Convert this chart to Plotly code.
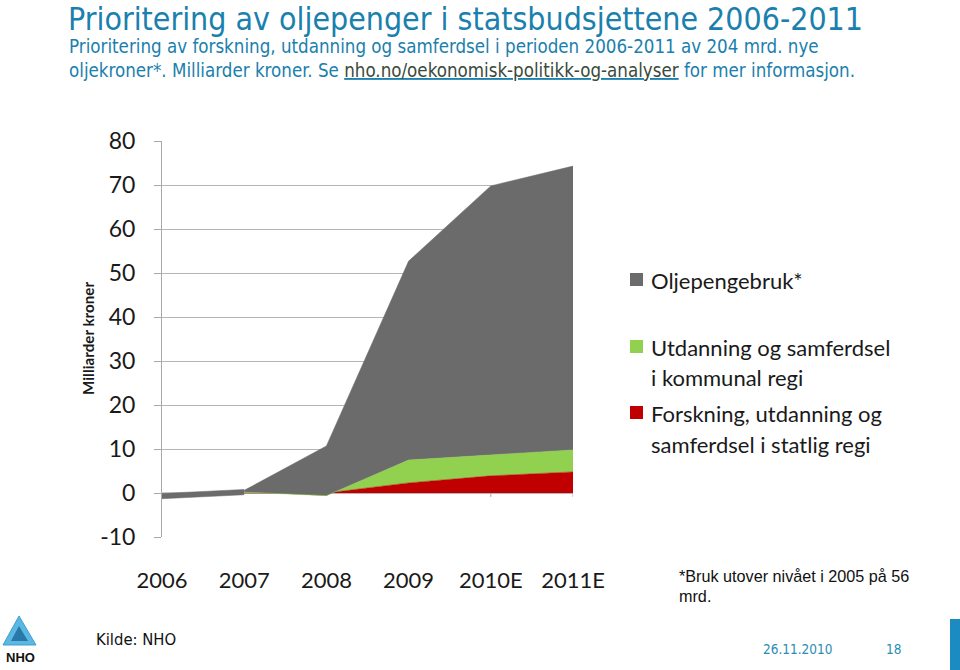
import plotly.graph_objects as go

# ---------------- data ----------------
years = ["2006", "2007", "2008", "2009", "2010E", "2011E"]
# stacked series, 2007 onwards
stack_years = years[1:]
statlig = [0.0, 0.0, 2.3, 3.9, 4.8]          # Forskning, utdanning og samferdsel i statlig regi
kommunal = [0.2, -0.6, 5.2, 4.7, 5.0]        # Utdanning og samferdsel i kommunal regi
olje = [0.4, 11.3, 45.2, 61.2, 64.5]         # Oljepengebruk*
# thin Oljepengebruk band 2006-2007 (below zero)
olje_band_years = years[:2]
olje_band_low = [-1.3, -0.4]
olje_band_high = [-0.1, 0.8]

y_ticks = list(range(-10, 81, 10))
y_tick_labels = [str(v) for v in y_ticks]

GRAY = "#6b6b6b"
GREEN = "#92d050"
RED = "#c00000"
TEAL = "#1a80ad"
AXIS = "#a9a9a9"
NARROW = "Liberation Sans Narrow, DejaVu Sans Condensed, Arial Narrow, sans-serif"
CAL = "Lato, Carlito, Calibri, sans-serif"

W, H = 960, 670
L, R, T, B = 162, 573, 141, 537


def px(x):
    return (x - L) / (R - L)


def py(y):
    return (B - y) / (B - T)


fig = go.Figure()

# band 2006-2007
fig.add_trace(go.Scatter(x=olje_band_years, y=olje_band_low, mode="lines",
                         line=dict(color=GRAY, width=0.5), showlegend=False, hoverinfo="skip"))
fig.add_trace(go.Scatter(x=olje_band_years, y=olje_band_high, mode="lines", fill="tonexty",
                         fillcolor=GRAY, line=dict(color=GRAY, width=0.5), showlegend=False,
                         hoverinfo="skip"))

for name, vals, col in [
    ("Forskning, utdanning og samferdsel i statlig regi", statlig, RED),
    ("Utdanning og samferdsel i kommunal regi", kommunal, GREEN),
    ("Oljepengebruk*", olje, GRAY),
]:
    fig.add_trace(go.Scatter(x=stack_years, y=vals, name=name, mode="lines",
                             stackgroup="main", fillcolor=col,
                             line=dict(color=col, width=0.5)))

shapes = []
# category tick marks on the zero line
for yr in years:
    shapes.append(dict(type="line", xref="x", yref="y", x0=yr, x1=yr, y0=0, y1=-0.9,
                       line=dict(color=AXIS, width=1)))
# zero line
shapes.append(dict(type="line", xref="paper", yref="y", x0=0, x1=1, y0=0, y1=0,
                   line=dict(color=AXIS, width=1), layer="below"))

# legend squares
for (ytop, col) in [(273, GRAY), (340, GREEN), (406, RED)]:
    shapes.append(dict(type="rect", xref="paper", yref="paper",
                       x0=px(630), x1=px(643), y0=py(ytop + 13), y1=py(ytop),
                       fillcolor=col, line=dict(width=0)))

# right blue bar
shapes.append(dict(type="rect", xref="paper", yref="paper",
                   x0=px(950), x1=px(961), y0=py(671), y1=py(619),
                   fillcolor="#1b8bc2", line=dict(width=0)))


# NHO logo (approximation)
def ppath(pts):
    return "M " + " L ".join(f"{px(a)},{py(b)}" for a, b in pts) + " Z"


shapes.append(dict(type="path", xref="paper", yref="paper",
                   path=ppath([(19, 616), (36, 645), (3, 645)]),
                   fillcolor="#5bb8e3", line=dict(color="#3c9fd0", width=1)))
shapes.append(dict(type="path", xref="paper", yref="paper",
                   path=ppath([(19, 626), (28, 641), (11, 641)]),
                   fillcolor="#2878a8", line=dict(width=0)))

ann = []


def text(x, y, s, size, color="#1a1a1a", family=NARROW, anchor="left", **kw):
    ann.append(dict(x=px(x), y=py(y), xref="paper", yref="paper", text=s, showarrow=False,
                    xanchor=anchor, yanchor="middle", align="left",
                    font=dict(size=size, color=color, family=family), **kw))


text(66, 18, "Prioritering av oljepenger i statsbudsjettene 2006-2011", 31.8, TEAL)
text(67, 47, "Prioritering av forskning, utdanning og samferdsel i perioden 2006-2011 av 204 mrd. nye", 18.6, TEAL)
text(67, 70, "oljekroner*. Milliarder kroner. Se "
     "<u><span style='color:#3b4a3b'>nho.no/oekonomisk-politikk-og-analyser</span></u>"
     " for mer informasjon.", 18.6, TEAL)

# y-axis title
text(88, 339, "<b>Milliarder kroner</b>", 15.2, "#1a1a1a", CAL, anchor="center", textangle=-90)

# legend texts
text(649, 280, "Oljepengebruk*", 22, "#1a1a1a", CAL)
text(649, 347, "Utdanning og samferdsel", 22, "#1a1a1a", CAL)
text(649, 377, "i kommunal regi", 22, "#1a1a1a", CAL)
text(649, 413, "Forskning, utdanning og", 22, "#1a1a1a", CAL)
text(649, 444, "samferdsel i statlig regi", 22, "#1a1a1a", CAL)

# footnote
text(677, 576, "*Bruk utover nivået i 2005 på 56", 16.2, "#111111", "Liberation Sans, Arial, sans-serif")
text(677, 596, "mrd.", 16.2, "#111111", "Liberation Sans, Arial, sans-serif")

# footer
text(94, 639, "Kilde: NHO", 16.5, "#111111")
text(761, 649, "26.11.2010", 13.5, "#2b8db3")
text(884, 649, "18", 13.5, "#2b8db3")
text(20, 657, "<b>NHO</b>", 13, "#111111", "Liberation Sans, Arial, sans-serif", anchor="center")

fig.update_layout(
    width=W, height=H, autosize=False,
    margin=dict(l=L, r=W - R, t=T, b=H - B, pad=0),
    paper_bgcolor="white", plot_bgcolor="white",
    showlegend=False,
    shapes=shapes, annotations=ann,
    xaxis=dict(type="category", categoryorder="array", categoryarray=years,
               range=[0, len(years) - 1], showgrid=False, showline=False, ticks="",
               zeroline=False, tickfont=dict(family=CAL, size=22, color="#1a1a1a"),
               ticklabelstandoff=28),
    yaxis=dict(range=[-10, 80], tickvals=y_ticks, ticktext=y_tick_labels,
               showgrid=True, gridcolor="#b5b5b5",
               gridwidth=1, showline=True, linecolor=AXIS, linewidth=1, ticks="outside",
               ticklen=7, tickcolor=AXIS, zeroline=False,
               tickfont=dict(family=CAL, size=23, color="#1a1a1a"), ticklabelstandoff=14),
)

fig.write_html("out.html", config={"displayModeBar": False},
               post_script="document.body.style.margin='0';")
